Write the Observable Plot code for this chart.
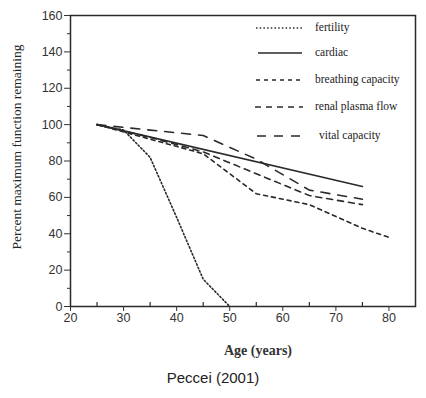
<!DOCTYPE html>
<html>
<head>
<meta charset="utf-8">
<script src="https://cdn.jsdelivr.net/npm/d3@7"></script>
<script src="https://cdn.jsdelivr.net/npm/@observablehq/plot@0.6"></script>
<style>
  html, body { margin: 0; padding: 0; background: #fff; }
  #wrap { position: relative; width: 426px; }
  #caption { text-align: center; font-family: "Liberation Sans", Arial, sans-serif; font-size: 15px; line-height: 16px; margin-top: 8px; color: #222; }
  #legend { position: absolute; left: 0; top: 0; width: 426px; height: 362px; pointer-events: none; }
  #legend text { font-family: "Liberation Serif", "Times New Roman", serif; font-size: 11.5px; fill: #222; }
</style>
</head>
<body>
<div id="wrap">
  <div id="chart"></div>
  <svg id="legend" width="426" height="362"></svg>
  <div id="caption">Peccei (2001)</div>
</div>
<script>
// ---- data ----
const fertilityAge = [25, 30, 35, 40, 45, 50];
const fertility    = [100, 97, 82, 49, 15, 0];

const cardiacAge = [25, 75];
const cardiac    = [100, 66];

const breathingAge = [25, 35, 45, 55, 65, 75, 80];
const breathing    = [100, 92, 84, 62, 56, 43, 38];

const renalAge = [25, 35, 45, 55, 65, 75];
const renal    = [100, 93, 85, 73, 61, 56];

const vitalAge = [25, 35, 45, 55, 65, 75];
const vital    = [100, 97, 94, 81, 64, 59];

const seriesNames = ["fertility", "cardiac", "breathing capacity", "renal plasma flow", "vital capacity"];
const seriesDash  = ["1.5,2.2", null, "4,4", "6,5", "9,8"];

const xMajor = [20, 30, 40, 50, 60, 70, 80];
const xMinor = [25, 35, 45, 55, 65, 75];
const yMajor = [0, 20, 40, 60, 80, 100, 120, 140, 160];
const yMinor = [10, 30, 50, 70, 90, 110, 130, 150];

const xLabel = "Age (years)";
const yLabel = "Percent maximum function remaining";

// ---- build table ----
const ages = [fertilityAge, cardiacAge, breathingAge, renalAge, vitalAge];
const vals = [fertility, cardiac, breathing, renal, vital];
const rows = [];
seriesNames.forEach((s, i) => ages[i].forEach((a, j) => rows.push({series: s, age: a, value: vals[i][j]})));

const ink = "#2a2a2a";
const tickFont = "Liberation Sans, Arial, sans-serif";

const lineMarks = seriesNames.map((s, i) =>
  Plot.line(rows.filter(d => d.series === s), {
    x: "age", y: "value", stroke: ink, strokeWidth: 1.6,
    strokeDasharray: seriesDash[i] || undefined, curve: "linear"
  })
);

const chart = Plot.plot({
  width: 426,
  height: 362,
  marginTop: 15,
  marginBottom: 56,
  marginLeft: 70,
  marginRight: 11,
  style: {fontFamily: tickFont, fontSize: "12px", color: "#333", background: "#fff"},
  x: {domain: [20, 85], label: null},
  y: {domain: [0, 160], label: null},
  marks: [
    Plot.frame({stroke: ink, strokeWidth: 1.5}),
    Plot.axisY({ticks: yMajor, tickSize: 6, tickPadding: 2, label: null, fontSize: 12.5}),
    Plot.axisY({ticks: yMinor, tickSize: 3, tickFormat: () => "", label: null}),
    Plot.axisX({ticks: xMajor, tickSize: 5, tickPadding: 2, label: null, fontSize: 12.5}),
    Plot.ruleX(xMinor, {x: d => d, y1: 0, y2: 2.2, stroke: ink, strokeWidth: 1.2}),
    ...lineMarks
  ]
});
document.getElementById("chart").appendChild(chart);

// axis titles
const svg = d3.select(chart);
svg.append("text")
  .attr("transform", "translate(18,147) rotate(-90)")
  .attr("text-anchor", "middle").attr("dominant-baseline", "middle")
  .attr("font-family", "Liberation Serif, Times New Roman, serif")
  .attr("font-size", 13.5).attr("fill", "#222")
  .text(yLabel);
svg.append("text")
  .attr("x", 258).attr("y", 352)
  .attr("text-anchor", "middle").attr("dominant-baseline", "middle")
  .attr("font-family", "Liberation Serif, Times New Roman, serif")
  .attr("font-size", 14).attr("font-weight", "bold").attr("fill", "#333")
  .text(xLabel);

// legend inside the plot (top right)
const lg = d3.select("#legend");
const legendRows = [28, 53, 80, 107, 136];
const legendSampleX = [[256, 303], [258, 302], [256, 300], [255, 303], [257, 302]];
const legendTextX = [315, 315, 315, 315, 319];
seriesNames.forEach((s, i) => {
  lg.append("line")
    .attr("x1", legendSampleX[i][0]).attr("x2", legendSampleX[i][1])
    .attr("y1", legendRows[i]).attr("y2", legendRows[i])
    .attr("stroke", ink).attr("stroke-width", 1.6)
    .attr("stroke-dasharray", seriesDash[i] || null);
  lg.append("text").attr("x", legendTextX[i]).attr("y", legendRows[i])
    .attr("dominant-baseline", "middle").text(s);
});
</script>
</body>
</html>
